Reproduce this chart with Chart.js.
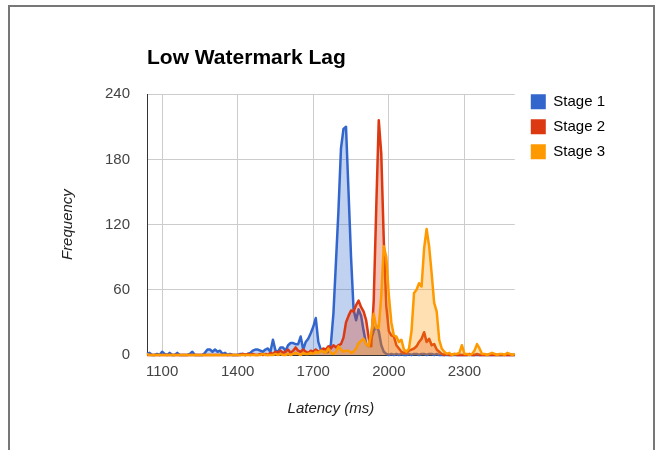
<!DOCTYPE html>
<html>
<head>
<meta charset="utf-8">
<title>Low Watermark Lag</title>
<script src="https://cdn.jsdelivr.net/npm/chart.js@4.4.1/dist/chart.umd.min.js"></script>
<style>
  html, body { margin: 0; padding: 0; background: #fff; }
  #wrap { position: relative; width: 665px; height: 450px; overflow: hidden; }
  #frame { position: absolute; left: 8px; top: 5px; width: 647px; height: 470px; border: 2px solid #777; border-bottom: none; box-sizing: border-box; }
  #chart { position: absolute; left: 0; top: 0; }
</style>
</head>
<body>
<div id="wrap">
  <div id="frame"></div>
  <canvas id="chart" width="665" height="450"></canvas>
</div>
<script>
// latency bins (ms), 10 ms wide
const latency = [
  1040, 1050, 1060, 1070, 1080, 1090, 1100, 1110, 1120, 1130,
  1140, 1150, 1160, 1170, 1180, 1190, 1200, 1210, 1220, 1230,
  1240, 1250, 1260, 1270, 1280, 1290, 1300, 1310, 1320, 1330,
  1340, 1350, 1360, 1370, 1380, 1390, 1400, 1410, 1420, 1430,
  1440, 1450, 1460, 1470, 1480, 1490, 1500, 1510, 1520, 1530,
  1540, 1550, 1560, 1570, 1580, 1590, 1600, 1610, 1620, 1630,
  1640, 1650, 1660, 1670, 1680, 1690, 1700, 1710, 1720, 1730,
  1740, 1750, 1760, 1770, 1780, 1790, 1800, 1810, 1820, 1830,
  1840, 1850, 1860, 1870, 1880, 1890, 1900, 1910, 1920, 1930,
  1940, 1950, 1960, 1970, 1980, 1990, 2000, 2010, 2020, 2030,
  2040, 2050, 2060, 2070, 2080, 2090, 2100, 2110, 2120, 2130,
  2140, 2150, 2160, 2170, 2180, 2190, 2200, 2210, 2220, 2230,
  2240, 2250, 2260, 2270, 2280, 2290, 2300, 2310, 2320, 2330,
  2340, 2350, 2360, 2370, 2380, 2390, 2400, 2410, 2420, 2430,
  2440, 2450, 2460, 2470, 2480, 2490, 2500
];

const stage1 = [
  1, 2, 0, 0, 1, 0, 3, 1, 0, 2,
  0, 0, 2, 0, 0, 0, 0, 1, 3, 0,
  0, 0, 0, 2, 5, 5, 3, 5, 3, 4,
  1, 2, 0, 1, 0, 0, 0, 1, 1, 0,
  1, 2, 4, 5, 5, 4, 3, 5, 6, 3,
  14, 4, 3, 7, 7, 4, 9, 11, 11, 10,
  10, 17, 5, 12, 15, 20, 26, 34, 12, 5,
  3, 2, 3, 10, 38, 85, 133, 190, 208, 210,
  150, 90, 42, 32, 42, 36, 22, 10, 8, 15,
  22, 27, 22, 9, 3, 1, 0, 1, 0, 1,
  0, 1, 0, 0, 1, 0, 1, 1, 0, 1,
  1, 0, 1, 1, 0, 1, 0, 0, 0, 0,
  0, 0, 0, 0, 0, 0, 0, 0, 0, 0,
  0, 0, 0, 0, 0, 0, 0, 0, 0, 0,
  0, 0, 0, 0, 0, 0, 0
];

const stage2 = [
  0, 0, 0, 0, 0, 0, 0, 0, 0, 0,
  0, 0, 0, 0, 0, 0, 0, 0, 0, 0,
  0, 0, 0, 0, 0, 0, 0, 0, 0, 0,
  0, 0, 0, 0, 0, 0, 0, 0, 1, 0,
  1, 0, 1, 0, 0, 1, 0, 1, 0, 2,
  1, 3, 2, 4, 2, 3, 5, 2, 4, 7,
  4, 3, 5, 3, 2, 4, 3, 5, 3, 4,
  6, 5, 8, 6, 9, 7, 9, 10, 16, 30,
  36, 41, 40, 46, 50, 44, 40, 32, 16, 8,
  50, 135, 216, 185, 105, 45, 22, 18, 17, 9,
  6, 3, 2, 2, 4, 5, 6, 8, 12, 15,
  21, 12, 15, 9, 10, 5, 3, 1, 0, 1,
  0, 0, 1, 0, 0, 0, 0, 0, 1, 0,
  0, 1, 0, 0, 0, 0, 0, 0, 0, 0,
  0, 0, 0, 0, 0, 0, 0
];

const stage3 = [
  1, 0, 0, 0, 0, 0, 0, 0, 0, 0,
  0, 0, 0, 0, 0, 0, 0, 0, 0, 0,
  0, 0, 0, 0, 0, 0, 0, 0, 0, 0,
  0, 0, 0, 0, 0, 0, 0, 0, 0, 0,
  0, 0, 0, 0, 0, 0, 1, 0, 0, 0,
  0, 1, 0, 1, 0, 0, 1, 0, 1, 2,
  1, 0, 2, 1, 1, 2, 1, 3, 2, 4,
  3, 2, 6, 2, 1, 3, 8, 5, 3, 4,
  4, 2, 3, 6, 11, 13, 15, 10, 8, 20,
  38, 25, 25, 55, 100, 90, 55, 30, 18, 17,
  12, 14, 5, 3, 6, 22, 57, 60, 66, 63,
  98, 116, 100, 75, 48, 40, 14, 6, 3, 1,
  2, 0, 1, 1, 2, 9, 1, 1, 0, 1,
  4, 10, 6, 1, 1, 0, 1, 2, 1, 0,
  1, 1, 0, 2, 1, 0, 1
];

const xTicks = [1100, 1400, 1700, 2000, 2300];
const yTicks = [0, 60, 120, 180, 240];

const FONT = 'Arial, "Liberation Sans", sans-serif';

function series(label, values, color, fill, order) {
  return {
    label: label,
    data: values.map((v, i) => ({ x: latency[i], y: v })),
    borderColor: color,
    backgroundColor: fill,
    borderWidth: 2.5,
    borderJoinStyle: 'round',
    pointRadius: 0,
    fill: 'origin',
    tension: 0,
    order: order,   // later stages are painted on top
    clip: false
  };
}

// the legend sits a little right of and above where Chart.js puts it
const legendNudge = {
  id: 'legendNudge',
  afterLayout(chart) {
    const l = chart.legend;
    l.left += 6; l.right += 6;
    l.top -= 10; l.bottom -= 10;
  }
};

new Chart(document.getElementById('chart'), {
  type: 'line',
  data: {
    datasets: [
      series('Stage 1', stage1, '#3366cc', 'rgba(51, 102, 204, 0.3)', 3),
      series('Stage 2', stage2, '#dc3912', 'rgba(220, 57, 18, 0.3)', 2),
      series('Stage 3', stage3, '#ff9900', 'rgba(255, 153, 0, 0.3)', 1)
    ]
  },
  options: {
    responsive: false,
    devicePixelRatio: 1,
    animation: false,
    layout: { padding: { left: 50, right: 56, top: 0, bottom: 0 } },
    scales: {
      x: {
        type: 'linear',
        min: 1040,
        max: 2500,
        afterBuildTicks: axis => { axis.ticks = xTicks.map(v => ({ value: v })); },
        afterFit: scale => { scale.height = 95; },
        grid: { color: '#cccccc', drawTicks: false },
        border: { display: true, color: '#333333' },
        ticks: { padding: 8, color: '#444444', font: { family: FONT, size: 15 }, callback: v => String(v) },
        title: {
          display: true, text: 'Latency (ms)', color: '#222222',
          font: { family: FONT, size: 15, style: 'italic' },
          padding: { top: 0, bottom: 32 }
        }
      },
      y: {
        min: 0,
        max: 240,
        afterBuildTicks: axis => { axis.ticks = yTicks.map(v => ({ value: v })); },
        afterFit: scale => { scale.width = 97; },
        grid: { color: ctx => (ctx.tick && ctx.tick.value === 0) ? '#333333' : '#cccccc', drawTicks: false },
        border: { display: true, color: '#333333' },
        ticks: { padding: 17, color: '#444444', font: { family: FONT, size: 15 } },
        title: {
          display: true, text: 'Frequency', color: '#222222',
          font: { family: FONT, size: 15, style: 'italic' },
          padding: { top: 9, bottom: 0 }
        }
      }
    },
    plugins: {
      title: {
        display: true,
        text: 'Low Watermark Lag',
        align: 'start',
        fullSize: false,
        color: '#000000',
        font: { family: FONT, size: 21, weight: 'bold' },
        padding: { top: 46, bottom: 23 }
      },
      legend: {
        position: 'right',
        align: 'start',
        fullSize: false,
        labels: {
          boxWidth: 15,
          boxHeight: 15,
          padding: 10,
          color: '#222222',
          font: { family: FONT, size: 15 },
          generateLabels: chart => chart.data.datasets.map((ds, i) => ({
            text: ds.label,
            fillStyle: ds.borderColor,
            strokeStyle: ds.borderColor,
            lineWidth: 0,
            hidden: false,
            datasetIndex: i
          }))
        }
      },
      tooltip: { enabled: false }
    }
  },
  plugins: [legendNudge]
});
</script>
</body>
</html>
